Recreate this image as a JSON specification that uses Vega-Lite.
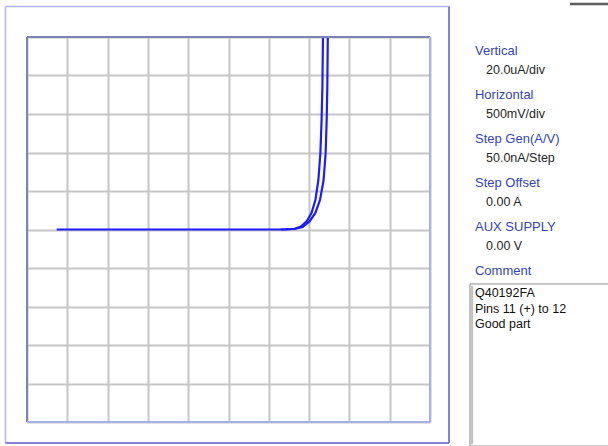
{
  "$schema": "https://vega.github.io/schema/vega-lite/v6.json",
  "width": 403,
  "height": 385,
  "autosize": {"type": "none"},
  "padding": {"left": 27, "top": 37, "right": 178, "bottom": 24},
  "background": "white",
  "config": {"view": {"stroke": null}, "font": "Liberation Sans"},
  "datasets": {
    "curve": [
      {"seq": 0, "trace": "up", "v": -2.131, "i": 0},
      {"seq": 1, "trace": "up", "v": -1.5, "i": 0},
      {"seq": 2, "trace": "up", "v": -1.0, "i": 0},
      {"seq": 3, "trace": "up", "v": -0.5, "i": 0},
      {"seq": 4, "trace": "up", "v": 0.0, "i": 0},
      {"seq": 5, "trace": "up", "v": 0.5, "i": 0},
      {"seq": 6, "trace": "up", "v": 0.7, "i": 0.1},
      {"seq": 7, "trace": "up", "v": 0.82, "i": 0.4},
      {"seq": 8, "trace": "up", "v": 0.9, "i": 1.6},
      {"seq": 9, "trace": "up", "v": 0.97, "i": 4.2},
      {"seq": 10, "trace": "up", "v": 1.03, "i": 8.6},
      {"seq": 11, "trace": "up", "v": 1.078, "i": 15.3},
      {"seq": 12, "trace": "up", "v": 1.115, "i": 25.7},
      {"seq": 13, "trace": "up", "v": 1.14, "i": 39.7},
      {"seq": 14, "trace": "up", "v": 1.155, "i": 56.9},
      {"seq": 15, "trace": "up", "v": 1.165, "i": 74.0},
      {"seq": 16, "trace": "up", "v": 1.172, "i": 100},
      {"seq": 17, "trace": "up", "v": 1.175, "i": 104},
      {"seq": 18, "trace": "down", "v": 1.238, "i": 104},
      {"seq": 19, "trace": "down", "v": 1.232, "i": 100},
      {"seq": 20, "trace": "down", "v": 1.226, "i": 74.0},
      {"seq": 21, "trace": "down", "v": 1.218, "i": 56.9},
      {"seq": 22, "trace": "down", "v": 1.205, "i": 39.7},
      {"seq": 23, "trace": "down", "v": 1.18, "i": 25.7},
      {"seq": 24, "trace": "down", "v": 1.135, "i": 15.3},
      {"seq": 25, "trace": "down", "v": 1.078, "i": 8.6},
      {"seq": 26, "trace": "down", "v": 1.005, "i": 4.2},
      {"seq": 27, "trace": "down", "v": 0.92, "i": 1.3},
      {"seq": 28, "trace": "down", "v": 0.82, "i": 0.26},
      {"seq": 29, "trace": "down", "v": 0.65, "i": 0}
    ],
    "settings": [
      {"item": "Vertical", "value": "20.0uA/div"},
      {"item": "Horizontal", "value": "500mV/div"},
      {"item": "Step Gen(A/V)", "value": "50.0nA/Step"},
      {"item": "Step Offset", "value": "0.00 A"},
      {"item": "AUX SUPPLY", "value": "0.00 V"},
      {"item": "Comment", "value": ""}
    ],
    "comment": [
      {"line": "Q40192FA"},
      {"line": "Pins 11 (+)  to 12"},
      {"line": "Good part"}
    ]
  },
  "layer": [
    {
      "layer": [
        {
          "data": {"name": "curve"},
          "mark": {"type": "line", "color": "#1c1cff", "strokeWidth": 2.2, "clip": true},
          "encoding": {
            "x": {
              "field": "v", "type": "quantitative",
              "scale": {"domain": [-2.5, 2.5], "nice": false, "zero": false},
              "axis": {"values": [-2.5, -2, -1.5, -1, -0.5, 0, 0.5, 1, 1.5, 2, 2.5], "tickCount": 30, "grid": true, "gridColor": "#c6c6c6", "gridWidth": 2, "labels": false, "ticks": false, "domain": false, "title": null}
            },
            "y": {
              "field": "i", "type": "quantitative",
              "scale": {"domain": [-100, 100], "nice": false, "zero": false},
              "axis": {"values": [-100, -80, -60, -40, -20, 0, 20, 40, 60, 80, 100], "tickCount": 30, "grid": true, "gridColor": "#c6c6c6", "gridWidth": 2, "labels": false, "ticks": false, "domain": false, "title": null}
            },
            "detail": {"field": "trace"},
            "order": {"field": "seq"}
          }
        },
        {
          "data": {"values": [{}]},
          "mark": {"type": "rule", "color": "#7c84b4", "strokeWidth": 2},
          "encoding": {"x": {"datum": -2.5, "type": "quantitative"}, "y": {"datum": -100, "type": "quantitative"}, "y2": {"datum": 100}}
        },
        {
          "data": {"values": [{}]},
          "mark": {"type": "rule", "color": "#7c84b4", "strokeWidth": 2},
          "encoding": {"y": {"datum": 100, "type": "quantitative"}, "x": {"datum": -2.5, "type": "quantitative"}, "x2": {"datum": 2.5}}
        },
        {
          "data": {"values": [{}]},
          "mark": {"type": "rule", "color": "#a8b0ec", "strokeWidth": 2},
          "encoding": {"x": {"datum": 2.5, "type": "quantitative"}, "y": {"datum": -100, "type": "quantitative"}, "y2": {"datum": 100}}
        },
        {
          "data": {"values": [{}]},
          "mark": {"type": "rule", "color": "#a8b0ec", "strokeWidth": 2},
          "encoding": {"y": {"datum": -100, "type": "quantitative"}, "x": {"datum": -2.5, "type": "quantitative"}, "x2": {"datum": 2.5}}
        },
        {
          "data": {"values": [{}]},
          "mark": {"type": "rule", "color": "#b4b4ff", "strokeWidth": 1.5},
          "encoding": {"x": {"datum": -2.767, "type": "quantitative"}, "y": {"datum": 115.8, "type": "quantitative"}, "y2": {"datum": -110.9}}
        },
        {
          "data": {"values": [{}]},
          "mark": {"type": "rule", "color": "#b4b4ff", "strokeWidth": 1.5},
          "encoding": {"y": {"datum": 115.8, "type": "quantitative"}, "x": {"datum": -2.767, "type": "quantitative"}, "x2": {"datum": 2.736}}
        },
        {
          "data": {"values": [{}]},
          "mark": {"type": "rule", "color": "#5a5ac8", "strokeWidth": 1.5},
          "encoding": {"x": {"datum": 2.736, "type": "quantitative"}, "y": {"datum": 115.8, "type": "quantitative"}, "y2": {"datum": -110.9}}
        },
        {
          "data": {"values": [{}]},
          "mark": {"type": "rule", "color": "#5a5ac8", "strokeWidth": 1.5},
          "encoding": {"y": {"datum": -110.9, "type": "quantitative"}, "x": {"datum": -2.767, "type": "quantitative"}, "x2": {"datum": 2.736}}
        },
        {
          "data": {"values": [{}]},
          "mark": {"type": "rect", "fill": "white", "stroke": "#8a8a8a", "strokeWidth": 1},
          "encoding": {"x": {"datum": 2.996, "type": "quantitative"}, "x2": {"datum": 4.8}, "y": {"datum": -28.3, "type": "quantitative"}, "y2": {"datum": -112.5}}
        },
        {
          "data": {"values": [{}]},
          "mark": {"type": "rule", "color": "#c2c2c2", "strokeWidth": 3},
          "encoding": {"x": {"datum": 3.017, "type": "quantitative"}, "y": {"datum": -29.3, "type": "quantitative"}, "y2": {"datum": -111.5}}
        },
        {
          "data": {"values": [{}]},
          "mark": {"type": "rule", "color": "#5e5e5e", "strokeWidth": 2.5},
          "encoding": {"y": {"datum": 117.2, "type": "quantitative"}, "x": {"datum": 4.236, "type": "quantitative"}, "x2": {"datum": 4.8}}
        }
      ]
    },
    {
      "data": {"name": "settings"},
      "layer": [
        {
          "mark": {"type": "text", "align": "left", "baseline": "middle", "font": "Liberation Sans", "fontSize": 13, "color": "#3343bb"},
          "encoding": {
            "x": {"datum": 3.058, "type": "quantitative"},
            "y": {"field": "item", "type": "nominal", "sort": null, "scale": {"type": "point", "range": [14, 234], "padding": 0}, "axis": null},
            "text": {"field": "item"}
          }
        },
        {
          "mark": {"type": "text", "align": "left", "baseline": "middle", "font": "Liberation Sans", "fontSize": 12.5, "color": "#262626", "dy": 19},
          "encoding": {
            "x": {"datum": 3.195, "type": "quantitative"},
            "y": {"field": "item", "type": "nominal", "sort": null, "scale": {"type": "point", "range": [14, 234], "padding": 0}, "axis": null},
            "text": {"field": "value"}
          }
        }
      ]
    },
    {
      "data": {"name": "comment"},
      "mark": {"type": "text", "align": "left", "baseline": "middle", "font": "Liberation Sans", "fontSize": 12.5, "color": "#111111"},
      "encoding": {
        "x": {"datum": 3.058, "type": "quantitative"},
        "y": {"field": "line", "type": "nominal", "sort": null, "scale": {"type": "point", "range": [256, 287], "padding": 0}, "axis": null},
        "text": {"field": "line"}
      }
    }
  ],
  "resolve": {"scale": {"y": "independent"}}
}
